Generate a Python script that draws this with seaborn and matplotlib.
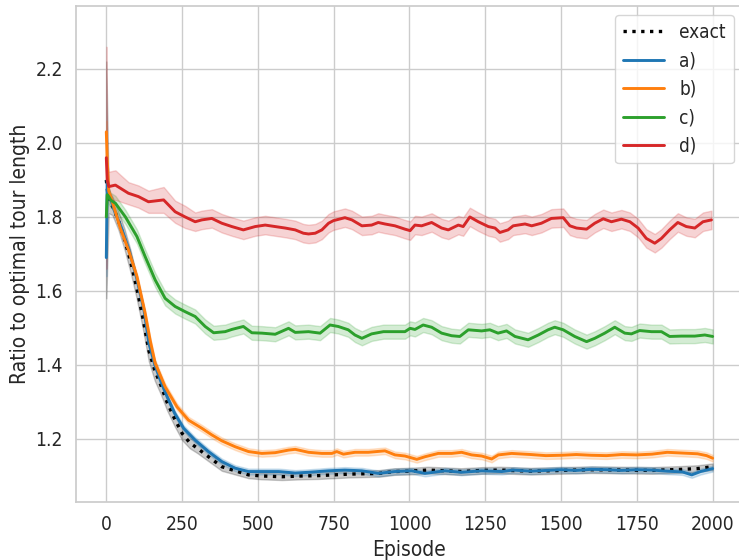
import numpy as np
import pandas as pd
import matplotlib
matplotlib.use("Agg")
import matplotlib.pyplot as plt
import seaborn as sns

# ---------------- data ----------------
exact_x = [0, 8, 20, 40, 60, 80, 100, 120, 140, 160, 180, 200, 225, 250, 275, 300, 337, 381, 425,
           469, 513, 579, 645, 700, 750, 800, 850, 900, 950, 1000, 1060, 1120, 1170, 1240, 1300,
           1400, 1500, 1600, 1700, 1800, 1900, 1950, 2000]
exact_y = [1.90, 1.84, 1.83, 1.79, 1.74, 1.68, 1.61, 1.53, 1.44, 1.385, 1.345, 1.30, 1.255, 1.215,
           1.19, 1.175, 1.152, 1.125, 1.114, 1.103, 1.100, 1.098, 1.100, 1.101, 1.103, 1.105, 1.106,
           1.107, 1.112, 1.113, 1.116, 1.114, 1.112, 1.115, 1.116, 1.113, 1.115, 1.117, 1.116,
           1.115, 1.118, 1.120, 1.125]

a_x = [0, 3, 10, 25, 50, 75, 100, 125, 140, 160, 180, 200, 225, 255, 293, 337, 381, 425, 469, 513,
       568, 623, 667, 733, 787, 843, 897, 952, 1007, 1051, 1117, 1172, 1238, 1304, 1342, 1400,
       1450, 1500, 1550, 1600, 1650, 1700, 1750, 1800, 1850, 1900, 1931, 1960, 2000]
a_y = [1.69, 1.90, 1.86, 1.82, 1.77, 1.71, 1.635, 1.545, 1.46, 1.40, 1.355, 1.315, 1.27, 1.229,
       1.197, 1.166, 1.139, 1.121, 1.112, 1.112, 1.112, 1.108, 1.110, 1.114, 1.116, 1.114, 1.107,
       1.112, 1.114, 1.107, 1.114, 1.110, 1.114, 1.112, 1.116, 1.113, 1.115, 1.117, 1.115, 1.118,
       1.117, 1.115, 1.117, 1.116, 1.113, 1.111, 1.103, 1.112, 1.120]

b_x = [0, 3, 8, 20, 46, 73, 101, 128, 145, 161, 194, 233, 271, 315, 348, 381, 425, 469, 513, 557,
       601, 623, 667, 711, 744, 760, 782, 820, 864, 919, 952, 985, 1024, 1051, 1095, 1139, 1172,
       1205, 1238, 1271, 1293, 1337, 1400, 1450, 1500, 1550, 1600, 1650, 1700, 1750, 1800, 1850,
       1900, 1950, 1980, 2000]
b_y = [2.03, 1.95, 1.87, 1.84, 1.77, 1.711, 1.639, 1.54, 1.465, 1.405, 1.341, 1.287, 1.251, 1.229,
       1.211, 1.195, 1.179, 1.166, 1.161, 1.163, 1.170, 1.172, 1.164, 1.161, 1.161, 1.166, 1.159,
       1.164, 1.164, 1.168, 1.157, 1.154, 1.145, 1.152, 1.161, 1.161, 1.164, 1.157, 1.154, 1.146,
       1.157, 1.161, 1.158, 1.155, 1.156, 1.158, 1.156, 1.155, 1.158, 1.157, 1.159, 1.164, 1.162,
       1.160, 1.155, 1.148]

c_x = [0, 3, 8, 15, 30, 63, 101, 128, 161, 194, 227, 260, 293, 326, 354, 392, 414, 452, 480, 513,
       557, 601, 623, 667, 705, 738, 765, 798, 820, 843, 875, 914, 952, 985, 1002, 1018, 1045,
       1073, 1106, 1139, 1166, 1194, 1238, 1265, 1292, 1320, 1348, 1391, 1425, 1457, 1479, 1507,
       1545, 1584, 1611, 1644, 1677, 1710, 1732, 1759, 1798, 1831, 1858, 1897, 1941, 1974, 2000]
c_y = [1.80, 1.86, 1.855, 1.845, 1.837, 1.80, 1.747, 1.693, 1.63, 1.58, 1.558, 1.544, 1.531, 1.504,
       1.487, 1.490, 1.496, 1.504, 1.487, 1.486, 1.483, 1.499, 1.488, 1.490, 1.486, 1.508, 1.504,
       1.495, 1.481, 1.472, 1.484, 1.490, 1.490, 1.490, 1.499, 1.496, 1.508, 1.502, 1.486, 1.479,
       1.477, 1.495, 1.492, 1.495, 1.486, 1.492, 1.477, 1.468, 1.481, 1.495, 1.502, 1.495, 1.477,
       1.463, 1.472, 1.486, 1.502, 1.486, 1.484, 1.493, 1.490, 1.490, 1.477, 1.478, 1.478, 1.481,
       1.477]

d_x = [0, 3, 8, 30, 73, 106, 139, 189, 227, 260, 293, 315, 348, 381, 414, 452, 491, 524, 557, 590,
       623, 650, 667, 689, 711, 733, 749, 787, 810, 843, 875, 897, 919, 952, 985, 1002, 1018, 1040,
       1073, 1106, 1128, 1161, 1177, 1199, 1227, 1260, 1282, 1298, 1325, 1342, 1381, 1403, 1435,
       1468, 1507, 1529, 1551, 1584, 1611, 1639, 1666, 1699, 1727, 1754, 1781, 1809, 1831, 1858,
       1885, 1913, 1941, 1968, 1996]
d_y = [1.96, 1.90, 1.882, 1.886, 1.864, 1.855, 1.841, 1.846, 1.814, 1.800, 1.787, 1.792, 1.796,
       1.783, 1.774, 1.765, 1.774, 1.778, 1.774, 1.770, 1.765, 1.756, 1.754, 1.756, 1.765, 1.783,
       1.790, 1.798, 1.792, 1.776, 1.778, 1.785, 1.781, 1.776, 1.767, 1.763, 1.778, 1.776, 1.785,
       1.770, 1.765, 1.778, 1.774, 1.800, 1.787, 1.774, 1.770, 1.758, 1.765, 1.776, 1.781, 1.776,
       1.783, 1.796, 1.798, 1.776, 1.770, 1.767, 1.783, 1.795, 1.787, 1.794, 1.787, 1.770, 1.742,
       1.729, 1.742, 1.765, 1.785, 1.774, 1.770, 1.787, 1.792]

# half-width of the shaded band: values for the first points, then a steady value
exact_hw_start = [0.32, 0.03, 0.025, 0.025, 0.028, 0.03, 0.03, 0.03, 0.03, 0.028, 0.025, 0.022,
                  0.02, 0.018, 0.015, 0.013, 0.012, 0.011, 0.01]
exact_hw = 0.009
a_hw_start, a_hw = [0.05, 0.02], 0.008
b_hw_start, b_hw = [0.03, 0.02], 0.009
c_hw_start, c_hw = [0.05, 0.02, 0.02, 0.02, 0.02], 0.019
d_hw_start, d_hw = [0.30, 0.05, 0.04, 0.04, 0.03, 0.03, 0.03, 0.035, 0.03, 0.03], 0.025

labels = ["exact", "a)", "b)", "c)", "d)"]
colors = ["black", "#1f77b4", "#ff7f0e", "#2ca02c", "#d62728"]
styles = [":", "-", "-", "-", "-"]

series = [
    (exact_x, exact_y, exact_hw_start, exact_hw),
    (a_x, a_y, a_hw_start, a_hw),
    (b_x, b_y, b_hw_start, b_hw),
    (c_x, c_y, c_hw_start, c_hw),
    (d_x, d_y, d_hw_start, d_hw),
]

# ---------------- plot ----------------
sns.set_theme(style="whitegrid", font_scale=1.25)
plt.rcParams["font.family"] = ["DejaVu Sans"]
plt.rcParams["font.stretch"] = "condensed"

fig = plt.figure(figsize=(7.39, 5.60), dpi=100)
ax = fig.add_axes([76 / 739, 58 / 560, (743 - 76) / 739, (502 - 6) / 560])

for (xs, ys, hw0, hw), lab, col, ls in zip(series, labels, colors, styles):
    xs = np.asarray(xs, float)
    ys = np.asarray(ys, float)
    h = np.full(len(xs), hw)
    h[:len(hw0)] = hw0
    df = pd.DataFrame({
        "Episode": np.concatenate([xs, xs, xs]),
        "val": np.concatenate([ys - h, ys, ys + h]),
    })
    sns.lineplot(data=df, x="Episode", y="val", ax=ax, color=col, label=lab,
                 errorbar=("pi", 100), linewidth=2.4 if ls == ":" else 2.1,
                 linestyle=ls)

ax.set_xlim(-100, 2100)
ax.set_ylim(1.0297, 2.370)
ax.set_xticks([0, 250, 500, 750, 1000, 1250, 1500, 1750, 2000])
ax.set_yticks([1.2, 1.4, 1.6, 1.8, 2.0, 2.2])
ax.set_xlabel("Episode")
ax.set_ylabel("Ratio to optimal tour length")
ax.legend(loc="upper right", fontsize=13.6, handlelength=2.2)

fig.savefig("out.png", dpi=100)
